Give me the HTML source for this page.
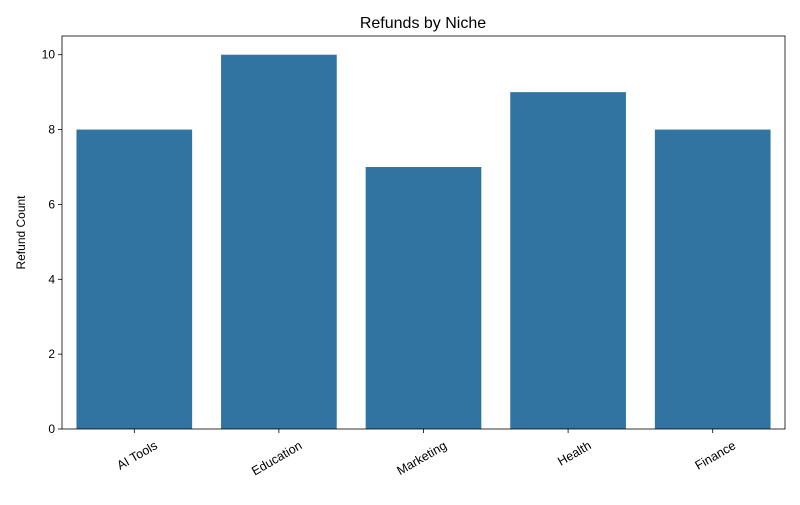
<!DOCTYPE html>
<html><head><meta charset="utf-8"><style>
body{margin:0;background:#fff;font-family:"Liberation Sans","DejaVu Sans",sans-serif}
</style></head><body>
<svg width="800" height="500" xmlns="http://www.w3.org/2000/svg" id="svg">
<rect width="800" height="500" fill="#fff"/>
<text x="423" y="28" font-size="16" text-anchor="middle">Refunds by Niche</text>
<text transform="translate(25,232.5) rotate(-90)" font-size="12" text-anchor="middle">Refund Count</text>
<g id="plot"></g>
</svg>
<script>
const categories=["AI Tools","Education","Marketing","Health","Finance"];
const values=[8,10,7,9,8];
const yTicks=[0,2,4,6,8,10];
const L=62,R=785,T=36,B=429,yMax=10.5;
const ns="http://www.w3.org/2000/svg";
const g=document.getElementById('plot');
function y(v){return B-(B-T)*v/yMax;}
const band=(R-L)/categories.length;
function x(i){return L+band*i;}
function mk(t,a){const e=document.createElementNS(ns,t);for(const k in a)e.setAttribute(k,a[k]);g.appendChild(e);return e;}
values.forEach((v,i)=>{
  const r=mk('rect',{x:x(i)+band*0.1,y:y(v),width:band*0.8,height:B-y(v),fill:'#3274a1'});
  
  
});
yTicks.forEach(t=>{
  mk('line',{x1:L-4,x2:L,y1:y(t),y2:y(t),stroke:'#000','stroke-width':0.8});
  const tx=mk('text',{x:L-7,y:y(t)+4,'font-size':12,'text-anchor':'end'});
  tx.textContent=t;
  
  
});
categories.forEach((c,i)=>{
  const cx=x(i)+band/2;
  mk('line',{x1:cx,x2:cx,y1:B,y2:B+4,stroke:'#000','stroke-width':0.8});
  const ax=cx+20,ay=B+12;
  const tx=mk('text',{x:ax,y:ay+8,'font-size':12.5,'text-anchor':'end',transform:`rotate(-30 ${ax} ${ay})`});
  tx.textContent=c;
  
  
});
const fr=mk('rect',{x:L,y:T,width:R-L,height:B-T,fill:'none',stroke:'#000','stroke-width':0.8});


</script>
</body></html>
